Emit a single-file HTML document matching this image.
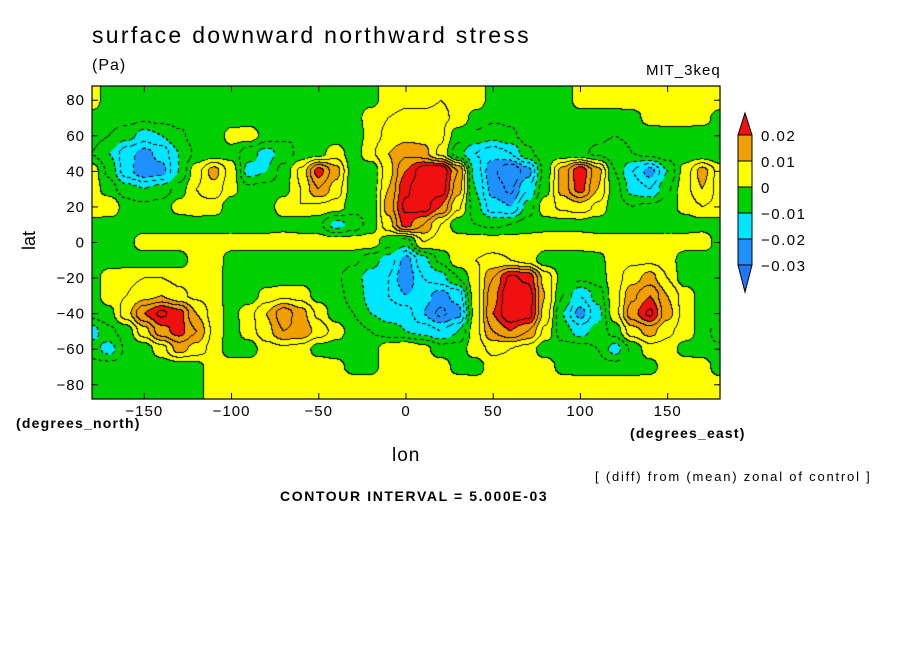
<!DOCTYPE html>
<html><head><meta charset="utf-8"><style>
body{margin:0;background:#fff;width:904px;height:654px;position:relative;overflow:hidden;font-family:"Liberation Sans",sans-serif;}
.t{position:absolute;white-space:nowrap;color:#000;}
canvas{position:absolute;}
</style></head><body>
<div class="t" style="left:92px;top:22px;font-size:23px;letter-spacing:2.3px">surface downward northward stress</div>
<div class="t" style="left:92px;top:57px;font-size:16px;letter-spacing:1px">(Pa)</div>
<div class="t" style="left:646px;top:62px;font-size:15px;letter-spacing:1px">MIT_3keq</div>
<canvas id="map" width="628" height="313" style="left:92px;top:86px"></canvas>
<svg id="ax" width="904" height="654" style="position:absolute;left:0;top:0"></svg>
<div class="t" style="left:20px;top:230px;font-size:18px;transform:rotate(-90deg)">lat</div>
<div class="t" style="left:16px;top:415px;font-size:14px;font-weight:bold;letter-spacing:1.2px">(degrees_north)</div>
<div class="t" style="left:630px;top:425px;font-size:14px;font-weight:bold;letter-spacing:1.2px">(degrees_east)</div>
<div class="t" style="left:392px;top:445px;font-size:19px;letter-spacing:1px">lon</div>
<div class="t" style="left:595px;top:469px;font-size:13px;letter-spacing:1.8px">[ (diff) from (mean) zonal of control ]</div>
<div class="t" style="left:280px;top:488px;font-size:14px;font-weight:bold;letter-spacing:1.6px">CONTOUR INTERVAL = 5.000E-03</div>
<script>
const lons=[-180,-170,-160,-150,-140,-130,-120,-110,-100,-90,-80,-70,-60,-50,-40,-30,-20,-10,0,10,20,30,40,50,60,70,80,90,100,110,120,130,140,150,160,170,180];
const lats=[80,70,60,50,40,30,20,10,0,-10,-20,-30,-40,-50,-60,-70,-80];
// values in units of 0.001 Pa
const r80=[3,-3,-3,-3,-3,-3,-3,-3,-3,-3,-3,-3,-3,-3,-3,-3,-2,3,4,4,5,4,3,-2,-3,-3,-3,-3,2,3,3,3,3,3,3,3,3];
const r70=[-2,-3,-3,-4,-3,-3,-3,-3,-3,-3,-3,-3,-3,-3,-3,-3,3,5,6,6,6,4,-2,-4,-4,-3,-3,-3,-2,-3,-3,-2,2,3,3,2,-2];
const r60=[-3,-5,-8,-12,-10,-6,-3,-4,2,3,-2,-4,-5,-3,-3,-5,3,6,8,8,6,-3,-6,-8,-6,-3,-3,-4,-3,-4,-5,-4,-3,-3,-3,-3,-3];
const r50=[-5,-10,-18,-22,-18,-10,-4,-3,-2,-8,-12,-8,-3,-2,3,-3,4,10,14,12,4,-8,-15,-18,-15,-6,-2,-3,-4,-6,-8,-5,-3,-2,-3,-4,-5];
const r40=[3,-6,-18,-24,-22,-10,3,12,3,-12,-10,-3,6,22,12,-3,-5,8,20,28,30,15,-12,-24,-30,-22,-3,12,24,12,-5,-15,-22,-10,2,12,3];
const r30=[3,-3,-8,-10,-8,-3,5,8,2,-4,-3,-2,5,15,8,-3,-4,10,24,30,28,12,-10,-22,-26,-15,-2,12,22,10,-3,-12,-15,-6,3,10,3];
const r20=[4,5,-3,-4,-3,2,4,3,-3,-4,-3,3,5,4,3,-3,-4,12,26,28,20,6,-8,-18,-20,-8,3,6,8,4,-3,-5,-4,-3,2,5,4];
const r10=[-2,-3,-3,-3,-3,-3,-3,-3,-4,-3,-3,-2,-3,-4,-12,-8,-3,8,22,15,5,-3,-5,-6,-5,-3,-2,-2,-2,-3,-3,-3,-3,-4,-3,-2,-2];
const r0=[-2,-2,-2,3,3,3,3,3,3,3,3,3,3,3,3,3,3,-3,-8,5,3,3,3,3,3,3,3,3,3,3,3,3,3,3,3,3,-2];
const rm10=[-3,-3,-3,-3,-3,-3,3,4,-3,-3,-3,-3,-3,-3,-3,-4,-8,-12,-22,-12,-4,3,5,6,5,3,-3,-3,-3,-2,3,4,4,3,-3,-3,-2];
const rm20=[-3,3,4,5,5,4,4,3,-3,-3,-3,-3,-2,-3,-4,-8,-12,-15,-24,-15,-12,-5,3,15,26,24,8,-2,-4,-3,3,8,12,5,-3,-3,-3];
const rm30=[-3,3,5,8,10,6,4,3,-3,-3,2,4,3,-2,-4,-6,-12,-15,-20,-18,-22,-18,3,18,30,28,10,-5,-15,-8,3,14,20,10,3,-2,-3];
const rm40=[-3,-2,8,20,26,22,10,3,-2,3,10,18,12,4,-3,-5,-10,-12,-12,-20,-26,-22,2,20,30,28,8,-10,-22,-12,3,18,26,12,3,-2,-3];
const rm50=[-12,-6,-3,8,18,22,15,4,-3,3,8,15,14,8,3,-3,-5,-8,-10,-12,-15,-10,3,15,20,15,4,-8,-12,-8,-3,8,12,6,3,-2,-8];
const rm60=[-8,-12,-4,-3,3,12,8,3,-3,-3,3,4,3,-2,-3,-3,-2,3,5,2,-3,-3,3,6,5,3,-3,-3,-3,-5,-12,-4,3,3,-2,-3,-4];
const rm70=[-3,-3,-3,-3,-3,-3,-2,3,3,3,4,4,3,3,2,-2,-2,3,3,3,3,-2,-3,3,3,3,3,-2,-3,-3,-3,-3,-2,3,3,3,-3];
const rm80=[-3,-3,-3,-3,-3,-3,-2,3,3,3,3,3,3,3,3,3,3,3,3,3,3,3,3,3,3,3,3,3,3,3,3,3,3,3,3,3,3];
const grid=[r80,r70,r60,r50,r40,r30,r20,r10,r0,rm10,rm20,rm30,rm40,rm50,rm60,rm70,rm80];
const levels=[-30,-20,-10,0,10,20];
const colors=['#1e78ff','#1e90ff','#00e6ff','#00d000','#ffff00','#f0a000','#f01010'];
const tickLons=[-150,-100,-50,0,50,100,150];
const tickLats=[80,60,40,20,0,-20,-40,-60,-80];
const cbLabels=['0.02','0.01','0','-0.01','-0.02','-0.03'];

const X0=92,X1=720,Y0=86,Y1=399,LATTOP=88,LATBOT=-88;
const xs=l=>X0+(l+180)/360*(X1-X0);
const ys=l=>Y0+(LATTOP-l)/(LATTOP-LATBOT)*(Y1-Y0);
function val(lon,lat){
  let fi=(lon+180)/10, fj=(80-lat)/10;
  fi=Math.max(0,Math.min(36,fi)); fj=Math.max(0,Math.min(16,fj));
  const i=Math.min(35,Math.floor(fi)), j=Math.min(15,Math.floor(fj));
  let a=fi-i,b=fj-j;
  a=a*a*(3-2*a); b=b*b*(3-2*b);
  const g=grid;
  return (g[j][i]*(1-a)+g[j][i+1]*a)*(1-b)+(g[j+1][i]*(1-a)+g[j+1][i+1]*a)*b;
}
function cls(v){let c=0;while(c<levels.length&&v>=levels[c])c++;return c;}
const cv=document.getElementById('map'),ctx=cv.getContext('2d');
const W=cv.width,H=cv.height,img=ctx.createImageData(W,H);
const cl=new Int8Array(W*H),fl=new Int16Array(W*H),vv=new Float32Array(W*H);
for(let y=0;y<H;y++)for(let x=0;x<W;x++){
  const lon=-180+(x+0.5)/W*360, lat=LATTOP-(y+0.5)/H*(LATTOP-LATBOT);
  const v=val(lon,lat),k=y*W+x;
  cl[k]=cls(v);fl[k]=Math.floor(v/5);vv[k]=v;
}
const rgb=colors.map(c=>[parseInt(c.slice(1,3),16),parseInt(c.slice(3,5),16),parseInt(c.slice(5,7),16)]);
for(let y=0;y<H;y++)for(let x=0;x<W;x++){
  const k=y*W+x,c=cl[k],f=fl[k];let col=rgb[c];
  const edge=(x<W-1&&fl[k+1]!==f)||(y<H-1&&fl[k+W]!==f);
  if(edge){
    const neg=vv[k]<-0.5;
    if(!neg||((x+y)%7)<4)col=[0,0,0];
  }
  img.data[k*4]=col[0];img.data[k*4+1]=col[1];img.data[k*4+2]=col[2];img.data[k*4+3]=255;
}
ctx.putImageData(img,0,0);

const svg=document.getElementById('ax'),NS='http://www.w3.org/2000/svg';
function mk(t,a,txt){const e=document.createElementNS(NS,t);for(const k in a)e.setAttribute(k,a[k]);if(txt!==undefined)e.textContent=txt;svg.appendChild(e);return e;}
let fr=mk('rect',{x:X0,y:Y0,width:X1-X0,height:Y1-Y0,fill:'none',stroke:'#000','stroke-width':1.2});


tickLons.forEach(l=>{
  const x=xs(l);
  mk('line',{x1:x,y1:Y1,x2:x,y2:Y1-6,stroke:'#000'});mk('line',{x1:x,y1:Y0,x2:x,y2:Y0+6,stroke:'#000'});
  const t=mk('text',{x:x,y:416,'text-anchor':'middle','font-size':15,'letter-spacing':1,'font-family':'Liberation Sans, sans-serif'},String(l).replace('-','\u2212'));
  
  
});
tickLats.forEach(l=>{
  const y=ys(l);
  mk('line',{x1:X0,y1:y,x2:X0+6,y2:y,stroke:'#000'});mk('line',{x1:X1,y1:y,x2:X1-6,y2:y,stroke:'#000'});
  const t=mk('text',{x:85,y:y+5,'text-anchor':'end','font-size':15,'letter-spacing':1,'font-family':'Liberation Sans, sans-serif'},String(l).replace('-','\u2212'));
  
  
});
// colorbar
const cx=738,cw=14,segH=26,cTop=135;
const tri1=mk('polygon',{points:`${cx},${cTop} ${cx+cw},${cTop} ${cx+cw/2},${cTop-22}`,fill:colors[6],stroke:'#000'});


for(let i=0;i<5;i++){
  const r=mk('rect',{x:cx,y:cTop+i*segH,width:cw,height:segH,fill:colors[5-i],stroke:'#000'});
  
  
}
const yb=cTop+5*segH;
const tri2=mk('polygon',{points:`${cx},${yb} ${cx+cw},${yb} ${cx+cw/2},${yb+27}`,fill:colors[0],stroke:'#000'});


cbLabels.forEach((s,i)=>{
  const t=mk('text',{x:761,y:cTop+i*segH+6,'font-size':15,'letter-spacing':1.5,'font-family':'Liberation Sans, sans-serif'},s.replace('-','\u2212'));
  
  
});
</script>
</body></html>
